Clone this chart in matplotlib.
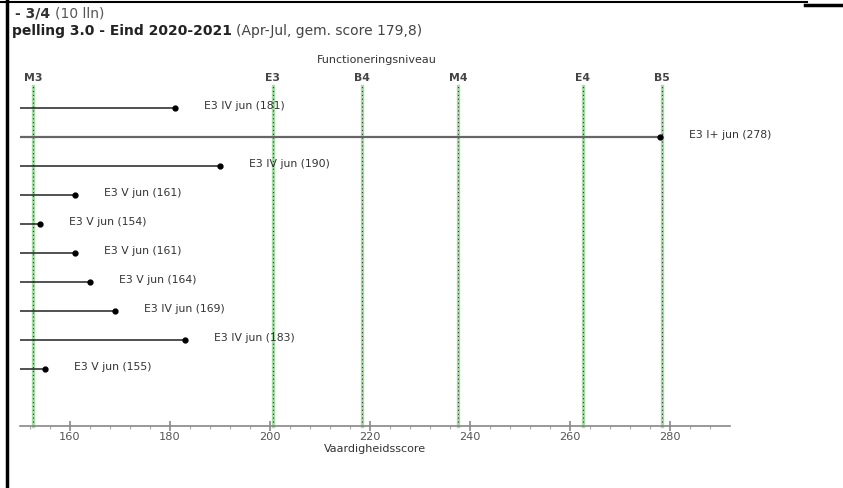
import matplotlib
matplotlib.use("Agg")
import matplotlib.pyplot as plt
from matplotlib.lines import Line2D
from matplotlib.transforms import blended_transform_factory

plt.rcParams["font.family"] = ["DejaVu Sans"]

# data
labels = ["E3 IV jun (181)", "E3 I+ jun (278)", "E3 IV jun (190)", "E3 V jun (161)",
          "E3 V jun (154)", "E3 V jun (161)", "E3 V jun (164)", "E3 IV jun (169)",
          "E3 IV jun (183)", "E3 V jun (155)"]
scores = [181, 278, 190, 161, 154, 161, 164, 169, 183, 155]
level_names = ["M3", "E3", "B4", "M4", "E4", "B5"]
level_values = [152.6, 200.6, 218.5, 237.6, 262.6, 278.4]
major_ticks = [160, 180, 200, 220, 240, 260, 280]

fig = plt.figure(figsize=(8.43, 4.88), dpi=100)
ax = fig.add_axes([0.0237, 0.127, 0.842, 0.693])
ax.set_xlim(150, 292)
ax.set_ylim(10.97, -0.69)

# level lines: light green with black dots on top
for v in level_values:
    ax.plot([v, v], [10.97, -0.75], color="#a6dca6", lw=2.4, zorder=1, clip_on=False)
    ax.plot([v, v], [10.97, -0.75], color="#333333", lw=0.8, ls=(0, (1, 2.5)),
            zorder=2, clip_on=False)

# bars per student
for i, (s, lab) in enumerate(zip(scores, labels)):
    col = "#666666" if s > 250 else "#222222"
    lw = 1.6 if s > 250 else 1.1
    ax.plot([150, s], [i, i], color=col, lw=lw, zorder=3)
    ax.plot([s], [i], "o", color="black", ms=3.5, zorder=4)
    ax.text(s + 5.8, i - 0.08, lab, fontsize=7.8, color="#333333", va="center", ha="left")

# axis styling
for sp in ["top", "right", "left"]:
    ax.spines[sp].set_visible(False)
ax.spines["bottom"].set_color("#888888")
ax.spines["bottom"].set_linewidth(1.2)
ax.set_yticks([])
ax.set_xticks(major_ticks)
ax.set_xticks([v for v in range(152, 292, 4)], minor=True)
ax.tick_params(axis="x", which="major", direction="inout", length=7, width=1.2,
               color="#888888", labelsize=8.2, labelcolor="#555555", pad=1)
ax.tick_params(axis="x", which="minor", direction="out", length=2, width=0.8,
               color="#aaaaaa")
ax.set_xlabel("Vaardigheidsscore", fontsize=8, color="#333333", labelpad=1)

# level labels
tr = blended_transform_factory(ax.transData, ax.transAxes)
for name, v in zip(level_names, level_values):
    ax.text(v, 1.03, name, transform=tr, fontsize=7.8, fontweight="bold",
            color="#444444", ha="center", va="center")
ax.text(0.503, 1.083, "Functioneringsniveau", transform=ax.transAxes, fontsize=8,
        color="#333333", ha="center", va="center")

# titles
fig.text(0.018, 0.973, "- 3/4", fontsize=10, fontweight="bold", color="#333333",
         va="center", ha="left")
fig.text(0.065, 0.973, "(10 lln)", fontsize=10, color="#555555", va="center", ha="left")
fig.text(0.014, 0.936, "pelling 3.0 - Eind 2020-2021", fontsize=10, fontweight="bold",
         color="#222222", va="center", ha="left")
fig.text(0.280, 0.936, "(Apr-Jul, gem. score 179,8)", fontsize=10, color="#444444",
         va="center", ha="left")

# page border lines
fig.add_artist(Line2D([0, 0.957], [0.996, 0.996], color="black", lw=1.5,
                      transform=fig.transFigure))
fig.add_artist(Line2D([0.955, 1.0], [0.99, 0.99], color="black", lw=2.5,
                      transform=fig.transFigure))
fig.add_artist(Line2D([0.0085, 0.0085], [0, 1], color="black", lw=2.5,
                      transform=fig.transFigure))

fig.savefig("out.png", dpi=100)
